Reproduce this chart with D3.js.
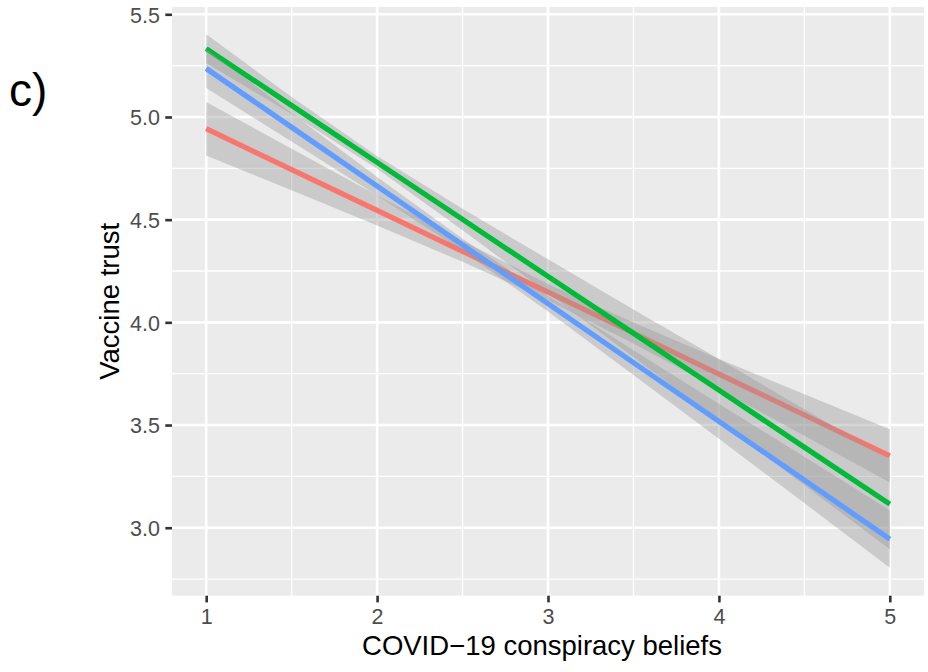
<!DOCTYPE html>
<html>
<head>
<meta charset="utf-8">
<script src="https://cdn.jsdelivr.net/npm/d3@7"></script>
<style>
  html, body { margin: 0; padding: 0; background: #ffffff; }
  svg { display: block; font-family: "Liberation Sans", Arial, Helvetica, sans-serif; }
</style>
</head>
<body>
<svg id="chart" width="928" height="672"></svg>
<script>
// ---- data ----
const xValues = [1, 1.5, 2, 2.5, 3, 3.5, 4, 4.5, 5];
const groups = ["red", "green", "blue"];
const fitRed   = [4.943, 4.744, 4.545, 4.346, 4.147, 3.948, 3.748, 3.549, 3.350];
const lowRed   = [4.813, 4.643, 4.471, 4.295, 4.107, 3.897, 3.674, 3.448, 3.220];
const highRed  = [5.073, 4.845, 4.619, 4.397, 4.187, 3.999, 3.822, 3.650, 3.480];
const fitGreen = [5.333, 5.056, 4.779, 4.501, 4.224, 3.947, 3.670, 3.392, 3.115];
const lowGreen = [5.263, 5.015, 4.748, 4.449, 4.141, 3.831, 3.519, 3.207, 2.895];
const highGreen= [5.403, 5.097, 4.810, 4.553, 4.307, 4.063, 3.821, 3.577, 3.335];
const fitBlue  = [5.236, 4.950, 4.663, 4.377, 4.091, 3.804, 3.518, 3.232, 2.945];
const lowBlue  = [5.141, 4.881, 4.618, 4.347, 4.053, 3.744, 3.433, 3.120, 2.805];
const highBlue = [5.331, 5.019, 4.708, 4.407, 4.129, 3.864, 3.604, 3.345, 3.085];
const xTicks = [1, 2, 3, 4, 5];
const xMinor = [1.5, 2.5, 3.5, 4.5];
const yTicks = [3.0, 3.5, 4.0, 4.5, 5.0, 5.5];
const yMinor = [2.75, 3.25, 3.75, 4.25, 4.75, 5.25];
const xTitle = "COVID\u221219 conspiracy beliefs";
const yTitle = "Vaccine trust";
const panelLabel = "c)";

const colors = { red: "#F8766D", green: "#00BA38", blue: "#619CFF" };
const series = [
  { key: "red",   fit: fitRed,   lo: lowRed,   hi: highRed },
  { key: "green", fit: fitGreen, lo: lowGreen, hi: highGreen },
  { key: "blue",  fit: fitBlue,  lo: lowBlue,  hi: highBlue }
];

// ---- layout ----
const svg = d3.select("#chart");
const P = { left: 172, right: 924, top: 7, bottom: 595.7 };
const x = d3.scaleLinear().domain([0.8, 5.2]).range([P.left, P.right]);
const y = d3.scaleLinear().domain([2.669, 5.5355]).range([P.bottom, P.top]);

// panel background
svg.append("rect")
  .attr("x", P.left).attr("y", P.top)
  .attr("width", P.right - P.left).attr("height", P.bottom - P.top)
  .attr("fill", "#EBEBEB");

const grid = svg.append("g");
// minor grid
grid.selectAll(".ymin").data(yMinor).join("line")
  .attr("x1", P.left).attr("x2", P.right)
  .attr("y1", d => y(d)).attr("y2", d => y(d))
  .attr("stroke", "#ffffff").attr("stroke-width", 1.3);
grid.selectAll(".xmin").data(xMinor).join("line")
  .attr("y1", P.top).attr("y2", P.bottom)
  .attr("x1", d => x(d)).attr("x2", d => x(d))
  .attr("stroke", "#ffffff").attr("stroke-width", 1.3);
// major grid
grid.selectAll(".ymaj").data(yTicks).join("line")
  .attr("x1", P.left).attr("x2", P.right)
  .attr("y1", d => y(d)).attr("y2", d => y(d))
  .attr("stroke", "#ffffff").attr("stroke-width", 2.6);
grid.selectAll(".xmaj").data(xTicks).join("line")
  .attr("y1", P.top).attr("y2", P.bottom)
  .attr("x1", d => x(d)).attr("x2", d => x(d))
  .attr("stroke", "#ffffff").attr("stroke-width", 2.6);

// ribbons + lines (per group, in order)
const area = d3.area()
  .x((d, i) => x(xValues[i]))
  .y0(d => y(d[0]))
  .y1(d => y(d[1]));
const line = d3.line()
  .x((d, i) => x(xValues[i]))
  .y(d => y(d));

const marks = svg.append("g");
series.forEach(s => {
  const band = s.lo.map((v, i) => [v, s.hi[i]]);
  marks.append("path")
    .attr("d", area(band))
    .attr("fill", "#999999")
    .attr("fill-opacity", 0.4);
  marks.append("path")
    .attr("d", line(s.fit))
    .attr("fill", "none")
    .attr("stroke", colors[s.key])
    .attr("stroke-width", 5.2);
});

// axes
const tickLen = 6.7;
const xAxis = d3.axisBottom(x).tickValues(xTicks).tickSize(tickLen).tickPadding(5.4)
  .tickFormat(d3.format("d"));
const yAxis = d3.axisLeft(y).tickValues(yTicks).tickSize(tickLen).tickPadding(5.4)
  .tickFormat(d3.format(".1f"));

const gx = svg.append("g").attr("transform", `translate(0,${P.bottom})`).call(xAxis);
const gy = svg.append("g").attr("transform", `translate(${P.left},0)`).call(yAxis);
[gx, gy].forEach(g => {
  g.select(".domain").remove();
  g.selectAll(".tick line").attr("stroke", "#333333").attr("stroke-width", 2.6);
  g.selectAll(".tick text")
    .attr("fill", "#4D4D4D")
    .attr("font-size", "21.5px")
    .attr("font-family", "'Liberation Sans', Arial, Helvetica, sans-serif");
});
gx.selectAll(".tick text").attr("dy", "0.74em");
gy.selectAll(".tick text").attr("dy", "0.36em");

// axis titles
svg.append("text")
  .attr("x", (P.left + P.right) / 2 - 6)
  .attr("y", 655)
  .attr("text-anchor", "middle")
  .attr("font-size", "27.5px")
  .attr("fill", "#000000")
  .text(xTitle);

svg.append("text")
  .attr("transform", `translate(118.5,${(P.top + P.bottom) / 2}) rotate(-90)`)
  .attr("text-anchor", "middle")
  .attr("font-size", "27.5px")
  .attr("fill", "#000000")
  .text(yTitle);

// panel label
svg.append("text")
  .attr("x", 9)
  .attr("y", 106)
  .attr("font-size", "46px")
  .attr("fill", "#000000")
  .text(panelLabel);
</script>
</body>
</html>
